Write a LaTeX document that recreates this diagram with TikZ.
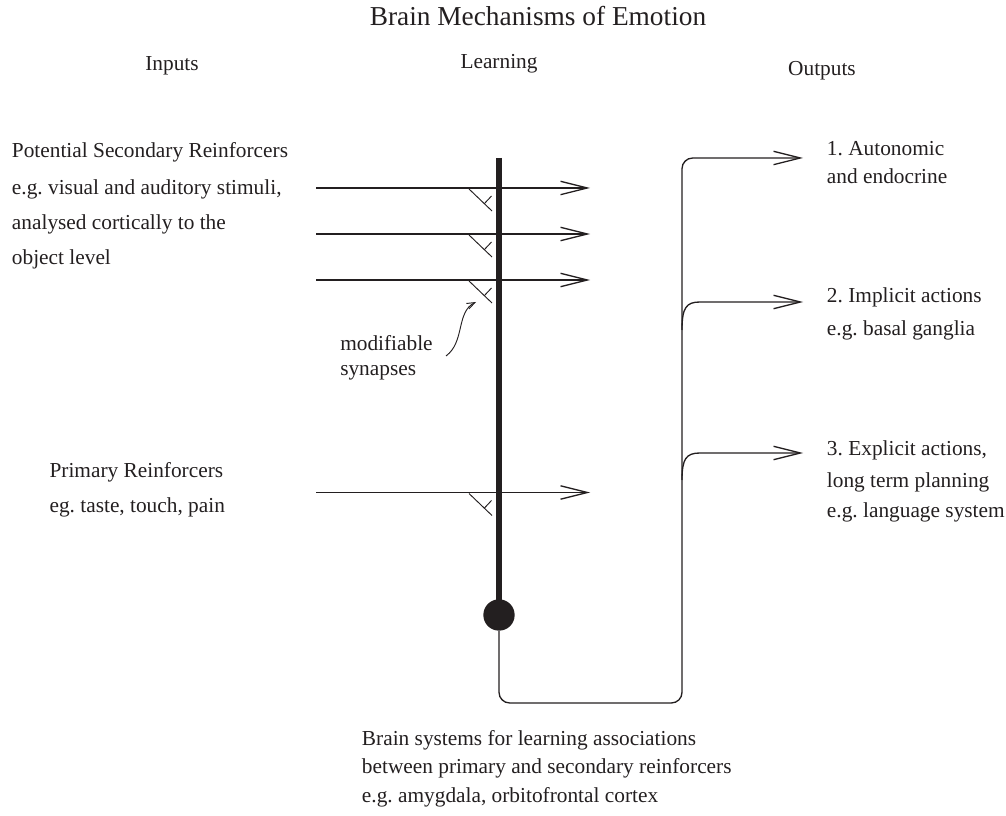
\documentclass[tikz,border=0pt]{standalone}
\usepackage{fontspec}
\setmainfont{Liberation Serif}
\usetikzlibrary{arrows.meta}
\definecolor{ink}{HTML}{231F20}
\frenchspacing
\begin{document}
\begin{tikzpicture}[x=0.75pt,y=-0.75pt,
  txt/.style={anchor=base west, inner sep=0pt, font=\fontsize{16}{19}\selectfont, text=ink},
  ctxt/.style={anchor=base, inner sep=0pt, font=\fontsize{16}{19}\selectfont, text=ink},
  wire/.style={draw=ink, line width=1pt},
  bigbarb/.style={-{Straight Barb[length=20pt,width=10pt]}},
  synmark/.style={draw=ink, line width=0.7pt},
  dendrite/.style={draw=ink, line width=3.8pt},
]
\useasboundingbox (0,0) rectangle (1006,816);

% titles and headings
\node[ctxt, font=\fontsize{20.5}{24}\selectfont] (title) at (538,26) {Brain Mechanisms of Emotion};
\node[ctxt] (hin) at (172,71) {Inputs};
\node[ctxt] (hlearn) at (499,69) {Learning};
\node[ctxt] (hout) at (822,76) {Outputs};

% input texts
\node[txt] (s1) at (11.7,158) {Potential Secondary Reinforcers};
\node[txt] (s2) at (11.7,195) {e.g. visual and auditory stimuli,};
\node[txt] (s3) at (11.7,230) {analysed cortically to the};
\node[txt] (s4) at (11.7,265) {object level};
\node[txt] (p1) at (49.3,477) {Primary Reinforcers};
\node[txt] (p2) at (49.3,512) {eg. taste, touch, pain};

% synapse label
\node[txt] (m1) at (340,351) {modifiable};
\node[txt] (m2) at (340,376) {synapses};

% output texts
\node[txt] (o1a) at (826.7,156) {1. Autonomic};
\node[txt] (o1b) at (826.7,184) {and endocrine};
\node[txt] (o2a) at (826.7,303) {2. Implicit actions};
\node[txt] (o2b) at (826.7,335) {e.g. basal ganglia};
\node[txt] (o3a) at (826.7,455) {3. Explicit actions,};
\node[txt] (o3b) at (826.7,487) {long term planning};
\node[txt] (o3c) at (826.7,517) {e.g. language system};

% bottom text
\node[txt] (b1) at (361.7,745) {Brain systems for learning associations};
\node[txt] (b2) at (361.7,773) {between primary and secondary reinforcers};
\node[txt] (b3) at (361.7,802) {e.g. amygdala, orbitofrontal cortex};

% neuron
\coordinate (dtop) at (499,158);
\node[circle, fill=ink, inner sep=0pt, minimum size=23.5pt] (soma) at (499,615) {};
\draw[dendrite] (dtop) -- (soma.center);

% input axons
\foreach \y [count=\i] in {188,234,280,492.5} {
  \coordinate (inL\i) at (316,\y);
  \coordinate (inR\i) at (590,\y);
  \draw[wire, bigbarb] (inL\i) -- (inR\i);
  \draw[synmark] (469,\y+1) -- (492,\y+23);
  \draw[synmark] (484,\y+16) -- (491.5,\y+8);
}

% modifiable synapses pointer
\coordinate (ptrS) at (446,356);
\coordinate (ptrE) at (476,302);
\draw[draw=ink, line width=0.7pt, -{Straight Barb[length=6pt,width=4.5pt]}]
  (ptrS) .. controls (465,342) and (456,312) .. (ptrE);

% output axon
\coordinate (ot1) at (803,158);
\coordinate (ot2) at (803,302);
\coordinate (ot3) at (803,453);
\draw[wire, bigbarb, rounded corners=8pt] (soma.south) |- (682,703) -- (682,158) -- (ot1);
\draw[wire, bigbarb] (682,330) .. controls (682,308) and (686,302) .. (700,302) -- (ot2);
\draw[wire, bigbarb] (682,480) .. controls (682,459) and (686,453) .. (700,453) -- (ot3);
\end{tikzpicture}
\end{document}
